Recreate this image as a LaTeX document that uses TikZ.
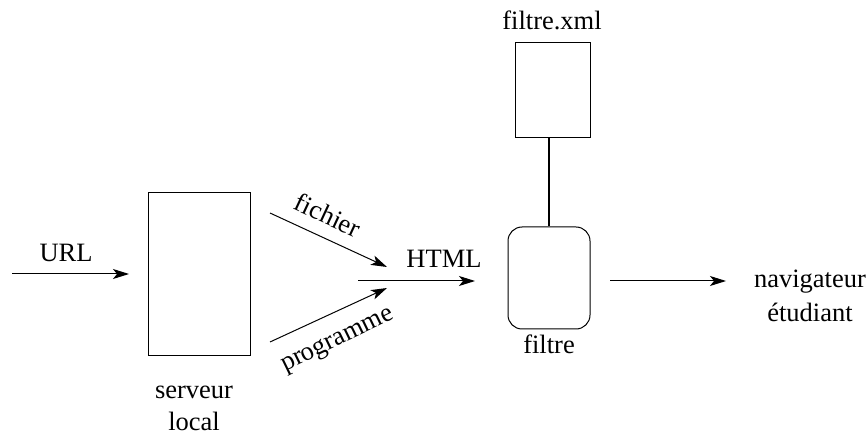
\documentclass[tikz,border=0pt]{standalone}
\usepackage{fontspec}
\setmainfont{Liberation Serif}
\usetikzlibrary{arrows.meta}
\begin{document}
\begin{tikzpicture}[x=1pt,y=-1pt,
  every node/.style={font=\fontsize{26.5}{30}\selectfont, inner sep=0pt},
  lbl/.style={anchor=base},
  arr/.style={line width=1pt,-{Stealth[length=16pt,width=10pt,inset=4pt]}},
  box/.style={draw, line width=1pt}]
\useasboundingbox (0,0) rectangle (867,435);
% boxes
\node[box, minimum width=102pt, minimum height=163pt] (srv) at (199,274.5) {};
\node[box, minimum width=75pt, minimum height=95pt] (xml) at (552.5,90.5) {};
\node[box, rounded corners=14pt, minimum width=82pt, minimum height=102pt] (flt) at (549,278) {};
% labels
\node[lbl] (lurl) at (66,262) {URL};
\node[lbl] (lsrv1) at (194,398) {serveur};
\node[lbl] (lsrv2) at (194,430) {local};
\node[lbl] (lxml) at (552,30) {filtre.xml};
\node[lbl] (lflt) at (549,354) {filtre};
\node[lbl] (lnav) at (810,288) {navigateur};
\node[lbl] (letu) at (810,322) {étudiant};
\node[lbl] (lhtml) at (444,268) {HTML};
\node[rotate=-25] (lfic) at (328,215) {fichier};
\node[lbl, rotate=26] (lprog) at (340,345) {programme};
% connector end points
\coordinate (u0) at (12,274);
\coordinate (u1) at (129,274);
\coordinate (f0) at (270,213);
\coordinate (f1) at (387,267);
\coordinate (p0) at (270,342);
\coordinate (p1) at (387,288);
\coordinate (h0) at (358,281);
\coordinate (h1) at (475,281);
\coordinate (n0) at (610,281);
\coordinate (n1) at (726,281);
% connectors
\draw[arr] (u0) -- (u1);
\draw[arr] (f0) -- (f1);
\draw[arr] (p0) -- (p1);
\draw[arr] (h0) -- (h1);
\draw[arr] (n0) -- (n1);
\draw[line width=2pt] (flt.north) -- (flt.north |- xml.south);
\end{tikzpicture}
\end{document}
